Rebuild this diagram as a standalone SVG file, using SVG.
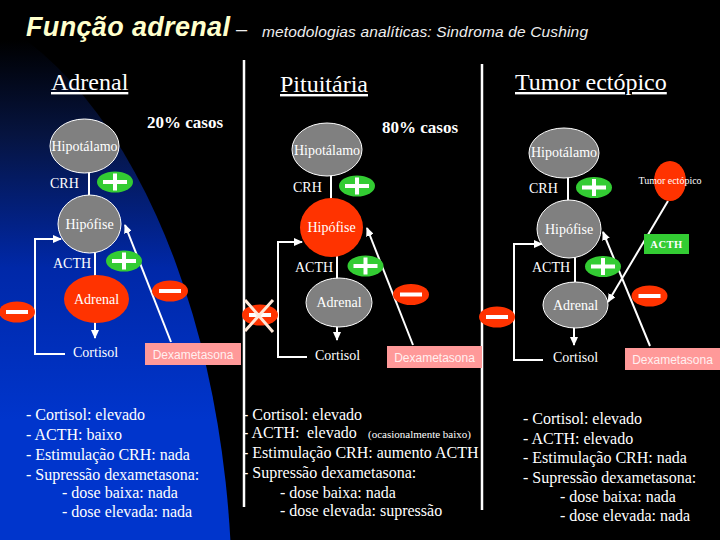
<svg xmlns="http://www.w3.org/2000/svg" xmlns:xlink="http://www.w3.org/1999/xlink" width="720" height="540" viewBox="0 0 720 540">
<defs>
  <linearGradient id="bg" gradientUnits="userSpaceOnUse" x1="0" y1="40" x2="0" y2="420">
    <stop offset="0" stop-color="#000000"/>
    <stop offset="0.25" stop-color="#061440"/>
    <stop offset="0.6" stop-color="#0028A8"/>
    <stop offset="1" stop-color="#0035CC"/>
  </linearGradient>
  <marker id="arr" markerUnits="userSpaceOnUse" markerWidth="9" markerHeight="8" refX="8" refY="4" orient="auto">
    <path d="M0,0 L9,4 L0,8 z" fill="#FFFFFF"/>
  </marker>
  <g id="plus">
    <ellipse rx="18" ry="10.5" fill="#33CC33"/>
    <path d="M-12,0 H12 M0,-8.5 V8.5" stroke="#FFFFFF" stroke-width="4" fill="none"/>
  </g>
  <g id="minus">
    <ellipse rx="18" ry="10.5" fill="#FF3300"/>
    <path d="M-11,0 H11" stroke="#FFFFFF" stroke-width="4" fill="none"/>
  </g>
</defs>
<style>
  .lbl { font-family: "Liberation Serif", "Times New Roman", serif; font-size: 14px; fill: #FFFFFF; }
  .mid { text-anchor: middle; }
  .gray { fill: #808080; stroke: #FFFFFF; stroke-width: 1; }
  .red { fill: #FF3300; }
  .dexbox { fill: #FF9999; }
  .dex { font-family: "Liberation Sans", Arial, sans-serif; font-size: 12px; fill: #FFF0F0; text-anchor: middle; }
  .hdr { font-family: "Liberation Serif", "Times New Roman", serif; font-size: 24px; fill: #FFFFFF; text-decoration: underline; }
  .pct { font-family: "Liberation Serif", "Times New Roman", serif; font-size: 17px; font-weight: bold; fill: #FFFFFF; }
  .list { font-family: "Liberation Serif", "Times New Roman", serif; font-size: 16px; fill: #FFFFFF; }
  .sep { stroke: #FFFFFF; stroke-width: 2.5; }
  .ln { stroke: #FFFFFF; stroke-width: 2; fill: none; }
  .arrow { marker-end: url(#arr); }
</style>

<rect x="0" y="0" width="720" height="540" fill="#000000"/>
<ellipse cx="-100" cy="600" rx="332" ry="605" fill="url(#bg)"/>

<!-- Title -->
<g id="title">
  <text x="26" y="36" font-family="'Liberation Sans', Arial, sans-serif" font-size="27" font-weight="bold" font-style="italic" fill="#FFFFCC" textLength="204" lengthAdjust="spacing">Função adrenal</text>
  <text x="236" y="36" font-family="'Liberation Sans', Arial, sans-serif" font-size="20" fill="#EEEEEE">–</text>
  <text x="262" y="37" font-family="'Liberation Sans', Arial, sans-serif" font-size="15.5" font-style="italic" fill="#EEEEEE" textLength="326" lengthAdjust="spacing">metodologias analíticas: Sindroma de Cushing</text>
</g>

<!-- Separators -->
<g id="separators">
  <line class="sep" x1="244" y1="60" x2="244" y2="507"/>
  <line class="sep" x1="482" y1="64" x2="482" y2="510"/>
</g>

<!-- Headers -->
<g id="headers">
  <text class="hdr" x="51" y="90">Adrenal</text>
  <text class="hdr" x="280" y="92">Pituitária</text>
  <text class="hdr" x="515" y="90">Tumor ectópico</text>
  <text class="pct" x="147" y="128">20% casos</text>
  <text class="pct" x="382" y="133">80% casos</text>
</g>

<!-- Connectors -->
<g id="connectors">
  <!-- left -->
  <line class="ln arrow" x1="89" y1="162" x2="89" y2="205"/>
  <line class="ln arrow" x1="95" y1="242" x2="95" y2="285"/>
  <line class="ln arrow" x1="95" y1="312" x2="95" y2="338"/>
  <polyline class="ln arrow" points="65,354 35,354 35,239 61,239"/>
  <line class="ln arrow" x1="171" y1="342" x2="125" y2="225"/>
  <!-- middle -->
  <line class="ln arrow" x1="331" y1="166" x2="331" y2="208"/>
  <line class="ln arrow" x1="337" y1="245" x2="337" y2="287"/>
  <line class="ln arrow" x1="337" y1="315" x2="337" y2="340"/>
  <polyline class="ln arrow" points="307,357 278,357 278,242 302,242"/>
  <line class="ln arrow" x1="413" y1="345" x2="367" y2="228"/>
  <!-- right -->
  <line class="ln arrow" x1="568" y1="167" x2="568" y2="212"/>
  <line class="ln arrow" x1="575" y1="247" x2="575" y2="290"/>
  <line class="ln arrow" x1="574" y1="317" x2="574" y2="345"/>
  <polyline class="ln arrow" points="543,360 514,360 514,244 542,244"/>
  <line class="ln arrow" x1="650" y1="346" x2="603" y2="232"/>
  <line class="ln arrow" x1="668" y1="201" x2="608" y2="302"/>
</g>

<!-- Left column: Adrenal -->
<g id="adr-hipotalamo">
  <ellipse class="gray" cx="84.5" cy="146" rx="34.5" ry="27"/>
  <text class="lbl mid" x="84.5" y="151">Hipotálamo</text>
</g>
<g id="adr-crh">
  <text class="lbl" x="50" y="188">CRH</text>
  <use xlink:href="#plus" href="#plus" x="115" y="182"/>
</g>
<g id="adr-hipofise">
  <ellipse class="gray" cx="89.5" cy="224" rx="31.5" ry="29"/>
  <text class="lbl mid" x="89.5" y="229">Hipófise</text>
</g>
<g id="adr-acth">
  <text class="lbl" x="53" y="268">ACTH</text>
  <use xlink:href="#plus" href="#plus" x="124" y="261"/>
</g>
<g id="adr-adrenal">
  <ellipse class="red" cx="96.5" cy="299" rx="32.5" ry="24"/>
  <text class="lbl mid" x="96.5" y="304">Adrenal</text>
</g>
<g id="adr-cortisol">
  <text class="lbl" x="73" y="357">Cortisol</text>
</g>
<g id="adr-feedback-minus">
  <use xlink:href="#minus" href="#minus" x="17" y="312"/>
</g>
<g id="adr-dex-minus">
  <use xlink:href="#minus" href="#minus" x="170" y="291"/>
</g>
<g id="adr-dexametasona">
  <rect class="dexbox" x="145" y="343" width="96" height="22"/>
  <text class="dex" x="193" y="359">Dexametasona</text>
</g>

<!-- Middle column: Pituitária -->
<g id="pit-hipotalamo">
  <ellipse class="gray" cx="327" cy="149.5" rx="35" ry="26.5"/>
  <text class="lbl mid" x="327" y="155">Hipotálamo</text>
</g>
<g id="pit-crh">
  <text class="lbl" x="293" y="192">CRH</text>
  <use xlink:href="#plus" href="#plus" x="357" y="186"/>
</g>
<g id="pit-hipofise">
  <ellipse class="red" cx="331.5" cy="227.5" rx="31.5" ry="29.5"/>
  <text class="lbl mid" x="331.5" y="232">Hipófise</text>
</g>
<g id="pit-acth">
  <text class="lbl" x="295" y="272">ACTH</text>
  <use xlink:href="#plus" href="#plus" x="365.5" y="266"/>
</g>
<g id="pit-adrenal">
  <ellipse class="gray" cx="339" cy="302.5" rx="33" ry="24.5"/>
  <text class="lbl mid" x="339" y="307">Adrenal</text>
</g>
<g id="pit-cortisol">
  <text class="lbl" x="315" y="360">Cortisol</text>
</g>
<g id="pit-feedback-minus">
  <use xlink:href="#minus" href="#minus" x="260" y="315"/>
  <path d="M245,300 L273,332 M245,331 L273,300" stroke="#FFE8D8" stroke-width="3" fill="none"/>
</g>
<g id="pit-dex-minus">
  <use xlink:href="#minus" href="#minus" x="411" y="294.5"/>
</g>
<g id="pit-dexametasona">
  <rect class="dexbox" x="387" y="346" width="95" height="22"/>
  <text class="dex" x="434.5" y="362">Dexametasona</text>
</g>

<!-- Right column: Tumor ectópico -->
<g id="ect-hipotalamo">
  <ellipse class="gray" cx="564" cy="153" rx="35" ry="25"/>
  <text class="lbl mid" x="564" y="157">Hipotálamo</text>
</g>
<g id="ect-crh">
  <text class="lbl" x="529" y="193">CRH</text>
  <use xlink:href="#plus" href="#plus" x="594" y="187.5"/>
</g>
<g id="ect-hipofise">
  <ellipse class="gray" cx="569" cy="229" rx="32" ry="29"/>
  <text class="lbl mid" x="569" y="234">Hipófise</text>
</g>
<g id="ect-acth">
  <text class="lbl" x="532" y="272">ACTH</text>
  <use xlink:href="#plus" href="#plus" x="603" y="266.5"/>
</g>
<g id="ect-adrenal">
  <ellipse class="gray" cx="575.5" cy="305" rx="32.5" ry="23"/>
  <text class="lbl mid" x="575.5" y="310">Adrenal</text>
</g>
<g id="ect-cortisol">
  <text class="lbl" x="553" y="362">Cortisol</text>
</g>
<g id="ect-tumor">
  <ellipse class="red" cx="670" cy="181" rx="16" ry="20"/>
  <text class="lbl mid" x="670" y="184" style="font-size:10px">Tumor ectópico</text>
</g>
<g id="ect-acth-box">
  <rect x="644" y="234" width="45" height="20" fill="#33CC33"/>
  <text class="lbl mid" x="666.5" y="248" style="font-size:10.5px;font-weight:bold" letter-spacing="0.5">ACTH</text>
</g>
<g id="ect-feedback-minus">
  <use xlink:href="#minus" href="#minus" x="497" y="317"/>
</g>
<g id="ect-dex-minus">
  <use xlink:href="#minus" href="#minus" x="649.5" y="296"/>
</g>
<g id="ect-dexametasona">
  <rect class="dexbox" x="625" y="348" width="95" height="22"/>
  <text class="dex" x="672.5" y="364">Dexametasona</text>
</g>

<!-- Bottom lists -->
<g id="list-adrenal">
  <text class="list" x="26" y="420">- Cortisol: elevado</text>
  <text class="list" x="26" y="440">- ACTH: baixo</text>
  <text class="list" x="26" y="460">- Estimulação CRH: nada</text>
  <text class="list" x="26" y="480">- Supressão dexametasona:</text>
  <text class="list" x="62" y="498">- dose baixa: nada</text>
  <text class="list" x="62" y="517">- dose elevada: nada</text>
</g>
<g id="list-pituitaria">
  <text class="list" x="243" y="420">- Cortisol: elevado</text>
  <text class="list" x="243" y="438">- ACTH: <tspan x="307">elevado</tspan><tspan x="368" font-size="11">(ocasionalmente baixo)</tspan></text>
  <text class="list" x="243" y="458">- Estimulação CRH: aumento ACTH</text>
  <text class="list" x="243" y="478">- Supressão dexametasona:</text>
  <text class="list" x="280" y="498">- dose baixa: nada</text>
  <text class="list" x="280" y="516">- dose elevada: supressão</text>
</g>
<g id="list-ectopico">
  <text class="list" x="523" y="424">- Cortisol: elevado</text>
  <text class="list" x="523" y="444">- ACTH: elevado</text>
  <text class="list" x="523" y="463">- Estimulação CRH: nada</text>
  <text class="list" x="523" y="483">- Supressão dexametasona:</text>
  <text class="list" x="560" y="502">- dose baixa: nada</text>
  <text class="list" x="560" y="521">- dose elevada: nada</text>
</g>
</svg>
